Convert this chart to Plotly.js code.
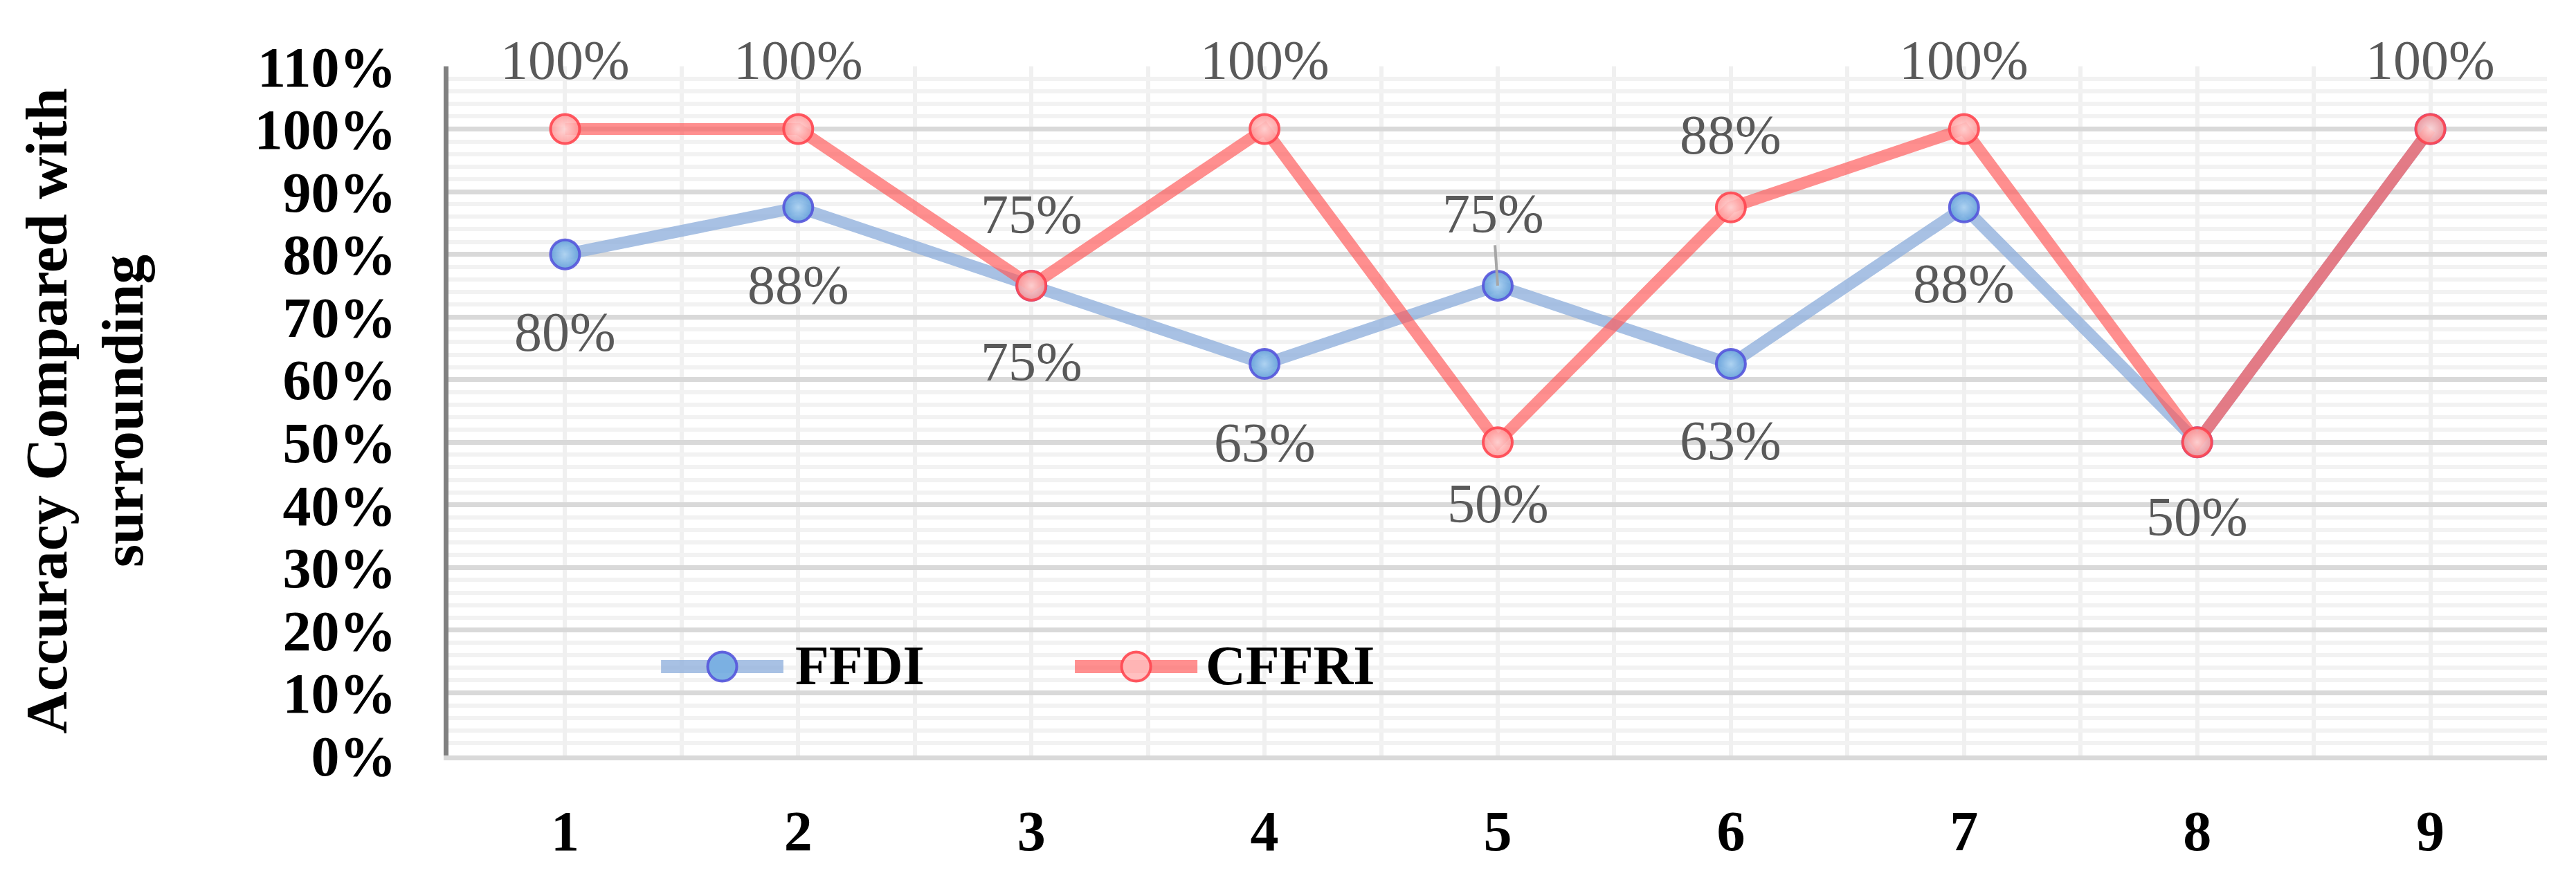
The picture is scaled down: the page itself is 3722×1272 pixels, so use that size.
<!DOCTYPE html>
<html>
<head>
<meta charset="utf-8">
<script src="https://cdn.plot.ly/plotly-3.0.1.min.js"></script>
<style>
  html, body { margin: 0; padding: 0; background: #ffffff; }
  #chart { width: 3722px; height: 1272px; }
</style>
</head>
<body>
<div id="chart"></div>
<script>
// ---------------- DATA ----------------
const categories = [1, 2, 3, 4, 5, 6, 7, 8, 9];
const ffdiValues  = [80, 87.5, 75, 62.5, 75, 62.5, 87.5, 50, 100];
const cffriValues = [100, 100, 75, 100, 50, 87.5, 100, 50, 100];
const seriesNames = ['FFDI', 'CFFRI'];
const yTickValues = [0, 10, 20, 30, 40, 50, 60, 70, 80, 90, 100, 110];
const yTickLabels = ['0%', '10%', '20%', '30%', '40%', '50%', '60%', '70%', '80%', '90%', '100%', '110%'];
const yTitle = 'Accuracy Compared with<br>surrounding';

// ---------------- STYLE (label placement, px shifts; null = no label) ----------------
const ffdiLabelShift  = [-112, -112, -110, -114, 104, -111, -110, -108, null];
const cffriLabelShift = [100, 100, 103, 100, -89, 105, 100, null, 100];
const ffdiLeader      = [false, false, false, false, true, false, false, false, false];

const FONT = "'Liberation Serif', 'Times New Roman', Times, serif";
const blueLine = 'rgba(143,175,220,0.78)';
const redLine  = 'rgba(255,90,90,0.68)';
const labelFont = { family: FONT, size: 80, color: '#595959' };

const traces = [
  {
    x: categories, y: ffdiValues, name: seriesNames[0],
    type: 'scatter', mode: 'lines+markers', showlegend: false, cliponaxis: false,
    line: { color: blueLine, width: 17 },
    marker: { size: 42, color: 'rgba(100,160,218,0.92)',
              gradient: { type: 'radial', color: 'rgba(175,212,242,0.95)' },
              line: { color: 'rgba(85,85,220,0.9)', width: 4 } }
  },
  {
    x: categories, y: cffriValues, name: seriesNames[1],
    type: 'scatter', mode: 'lines+markers', showlegend: false, cliponaxis: false,
    line: { color: redLine, width: 17 },
    marker: { size: 42, color: 'rgba(255,150,150,0.85)',
              gradient: { type: 'radial', color: 'rgba(255,215,215,0.9)' },
              line: { color: 'rgba(255,70,80,0.9)', width: 4 } }
  }
];

const annotations = [];
function addLabels(values, shifts, leaders) {
  values.forEach((v, i) => {
    if (shifts[i] === null) return;
    const txt = Math.round(v) + '%';
    if (leaders && leaders[i]) {
      annotations.push({
        x: categories[i], y: v, xref: 'x', yref: 'y', text: txt,
        showarrow: true, arrowhead: 0, arrowwidth: 4, arrowcolor: '#a6a6a6',
        ax: -7, ay: -shifts[i], standoff: 0, font: labelFont
      });
    } else {
      annotations.push({
        x: categories[i], y: v, xref: 'x', yref: 'y', text: txt,
        showarrow: false, yshift: shifts[i], yanchor: 'middle', xanchor: 'center',
        font: labelFont
      });
    }
  });
}
addLabels(ffdiValues, ffdiLabelShift, ffdiLeader);
addLabels(cffriValues, cffriLabelShift, null);

// Legend (drawn as layout shapes + text so the sample keeps the series' look)
const legendFont = { family: FONT, size: 80, color: '#000000' };
const legY = 0.129;
const legItems = [
  { x0: 0.1013, x1: 0.1596, text: seriesNames[0], tx: 0.1645, lc: blueLine,
    fill: 'rgba(120,175,225,0.95)', edge: 'rgba(85,85,220,0.9)' },
  { x0: 0.2985, x1: 0.3569, text: seriesNames[1], tx: 0.3603, lc: redLine,
    fill: 'rgba(255,185,185,0.9)', edge: 'rgba(255,70,80,0.9)' }
];
const shapes = [];
const rx = 21 / 3032, ry = 21 / 997;
legItems.forEach(it => {
  shapes.push({ type: 'line', xref: 'paper', yref: 'paper', x0: it.x0, x1: it.x1, y0: legY, y1: legY,
                line: { color: it.lc, width: 19 } });
  const cx = (it.x0 + it.x1) / 2;
  shapes.push({ type: 'circle', xref: 'paper', yref: 'paper', x0: cx - rx, x1: cx + rx,
                y0: legY - ry, y1: legY + ry, fillcolor: it.fill, line: { color: it.edge, width: 4 } });
  annotations.push({ xref: 'paper', yref: 'paper', x: it.tx, y: legY + 0.002, xanchor: 'left', yanchor: 'middle',
                     text: '<b>' + it.text + '</b>', showarrow: false, font: legendFont });
});

const layout = {
  width: 3722, height: 1272,
  margin: { l: 648, r: 42, t: 96, b: 180 },
  paper_bgcolor: '#ffffff', plot_bgcolor: '#ffffff',
  font: { family: FONT, size: 80, color: '#000000' },
  showlegend: false,
  xaxis: {
    range: [0.5, 9.5], tickmode: 'linear', tick0: 1, dtick: 1,
    showgrid: true, gridcolor: '#f0f0f0', gridwidth: 6,
    minor: { tick0: 0.5, dtick: 1, showgrid: true, gridcolor: '#f0f0f0', gridwidth: 6 },
    showline: true, linecolor: '#d9d9d9', linewidth: 7,
    zeroline: false, ticks: '', ticklabelstandoff: 32,
    tickfont: { family: FONT, size: 82, color: '#000000', weight: 'bold' }
  },
  yaxis: {
    range: [0, 110], tickmode: 'array', tickvals: yTickValues, ticktext: yTickLabels,
    showgrid: true, gridcolor: '#d9d9d9', gridwidth: 7,
    minor: { dtick: 2, showgrid: true, gridcolor: '#f2f2f2', gridwidth: 6 },
    showline: true, linecolor: '#808080', linewidth: 7,
    zeroline: false, ticks: '', ticklabelstandoff: 52,
    tickfont: { family: FONT, size: 82, color: '#000000', weight: 'bold' },
    title: { text: yTitle, standoff: 135,
             font: { family: FONT, size: 85, color: '#000000', weight: 'bold' } }
  },
  annotations: annotations,
  shapes: shapes
};

Plotly.newPlot('chart', traces, layout, { staticPlot: true, displayModeBar: false });
</script>
</body>
</html>
